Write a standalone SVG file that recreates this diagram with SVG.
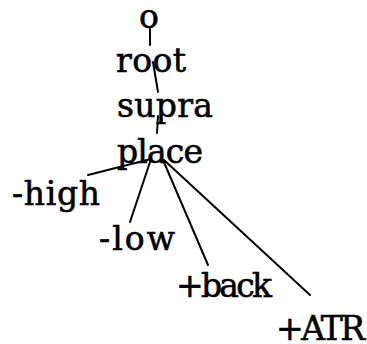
<svg xmlns="http://www.w3.org/2000/svg" width="367" height="344" viewBox="0 0 367 344">
<style>
  .lbl { font-family: "DejaVu Serif", "Liberation Serif", serif; font-size: 33px; fill: #000; stroke: #000; stroke-width: 0.6; }
  .edge { stroke: #000; stroke-width: 2; fill: none; stroke-linecap: round; }
</style>
<rect width="367" height="344" fill="#fff"/>
<g id="connectors">
  <line class="edge" x1="150" y1="29" x2="150" y2="45"/>
  <line class="edge" x1="153" y1="62" x2="158" y2="92"/>
  <line class="edge" x1="158" y1="116" x2="157" y2="133"/>
  <line class="edge" x1="151" y1="159" x2="88" y2="175"/>
  <line class="edge" x1="151" y1="159" x2="130" y2="222"/>
  <line class="edge" x1="163" y1="160" x2="208" y2="265"/>
  <line class="edge" x1="164" y1="160" x2="310" y2="295"/>
</g>
<g id="n-o"><text class="lbl" x="139" y="28">o</text></g>
<g id="n-root"><text class="lbl" x="116" y="72" textLength="70" lengthAdjust="spacing">root</text></g>
<g id="n-supra"><text class="lbl" x="117" y="117" textLength="96" lengthAdjust="spacing">supra</text></g>
<g id="n-place"><text class="lbl" x="117" y="163" textLength="86" lengthAdjust="spacing">place</text></g>
<g id="n-high"><text class="lbl" x="12" y="205" textLength="88" lengthAdjust="spacing">-high</text></g>
<g id="n-low"><text class="lbl" x="99" y="250" textLength="76" lengthAdjust="spacing">-low</text></g>
<g id="n-back"><text class="lbl" x="176" y="297" textLength="96" lengthAdjust="spacing">+back</text></g>
<g id="n-atr"><text class="lbl" x="276" y="340" textLength="89" lengthAdjust="spacing">+ATR</text></g>
</svg>
